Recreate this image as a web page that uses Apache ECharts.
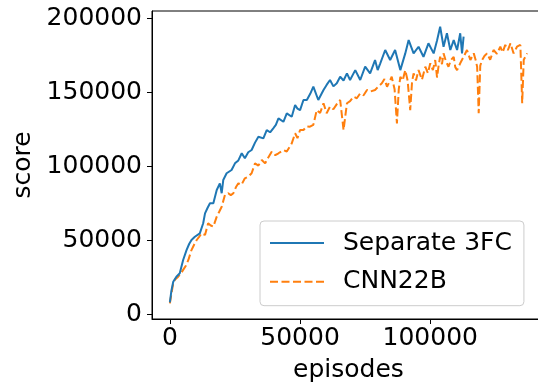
<!DOCTYPE html>
<html>
<head>
<meta charset="utf-8">
<script src="https://cdn.jsdelivr.net/npm/echarts@6/dist/echarts.min.js"></script>
<style>
  html, body { margin: 0; padding: 0; background: #fff; }
  #chart { width: 538px; height: 385px; }
</style>
</head>
<body>
<div id="chart"></div>
<script>
// Separate 3FC (blue, solid)
const blueEpisodes = [0, 600, 1300, 2500, 3800, 5100, 6400, 7400, 8300, 9600, 11500, 12800, 13500, 14500, 15400, 16700, 18000, 19200, 19900, 20500, 21800, 23700, 25000, 26300, 27600, 28800, 30100, 31400, 32700, 34000, 35900, 37200, 38500, 39700, 40700, 41700, 43600, 44900, 46800, 48100, 49000, 50000, 51300, 52600, 53900, 55100, 57000, 59000, 60200, 61500, 62800, 64100, 65400, 66700, 68000, 69200, 71200, 73100, 75000, 76900, 78800, 79800, 80800, 82700, 84600, 86500, 88500, 90400, 91700, 93600, 95500, 97400, 99300, 101300, 102600, 103800, 105100, 106400, 107700, 109000, 110300, 111500, 112200, 112800];
const blueScores = [8000, 16000, 22000, 25400, 27700, 36700, 43400, 47500, 50200, 52400, 54700, 61500, 68200, 72000, 75000, 75000, 84000, 88500, 81800, 90700, 95300, 97500, 102000, 104000, 108800, 105400, 109500, 111000, 116000, 120000, 118900, 124500, 123000, 125700, 128000, 132400, 130100, 135800, 133500, 141400, 139000, 138000, 144800, 144800, 149000, 153800, 144800, 151600, 155000, 158300, 154000, 156100, 160500, 158000, 162800, 158300, 165000, 158300, 167300, 162800, 171800, 165000, 169600, 178600, 171800, 178600, 165000, 176300, 185300, 176300, 180800, 174000, 183100, 176300, 185000, 194300, 180800, 189900, 178600, 185300, 178600, 189900, 176300, 187600];

// CNN22B (orange, dashed)
const orangeEpisodes = [0, 700, 1300, 2000, 3200, 4200, 5100, 6200, 7100, 8300, 9300, 10300, 11300, 12200, 13500, 14700, 15700, 16700, 18000, 19000, 19900, 21200, 22400, 23400, 24400, 25400, 26300, 27500, 28800, 30100, 31400, 32700, 34000, 35300, 36600, 37800, 39100, 40500, 41700, 43600, 44900, 46800, 48100, 49000, 50000, 51300, 52600, 53800, 55100, 56400, 57700, 59000, 60200, 61500, 62800, 64100, 65400, 66700, 68000, 69200, 70500, 71800, 73100, 74400, 75700, 76900, 78800, 80100, 81400, 82400, 83400, 84300, 85200, 86300, 87200, 87900, 88500, 89400, 90400, 91300, 92300, 93000, 93600, 94500, 95500, 96800, 98100, 99100, 100000, 101000, 101900, 102600, 103200, 103800, 104500, 105100, 106000, 107000, 108000, 109000, 109600, 110300, 111500, 112800, 114100, 115400, 116700, 117400, 118000, 118600, 119200, 119900, 120800, 121800, 123000, 124300, 125600, 126900, 127800, 128800, 129800, 130800, 132000, 133300, 134600, 135300, 135900, 136500, 137200];
const orangeScores = [7400, 15000, 21000, 23500, 25400, 27500, 30000, 33000, 36700, 43400, 47000, 50200, 52500, 54700, 53600, 61500, 60000, 59200, 66000, 69500, 72700, 81000, 81800, 80500, 81800, 86000, 88500, 87500, 91900, 93000, 95300, 102000, 100500, 104300, 102000, 106000, 109900, 107500, 108800, 111000, 110000, 115500, 122300, 119000, 124500, 124500, 127000, 126800, 128000, 138000, 136000, 142600, 135800, 140300, 138500, 142000, 144800, 124500, 142600, 144000, 147000, 146000, 149300, 148000, 151600, 150500, 151600, 154000, 156100, 159000, 153800, 157000, 160500, 152000, 129000, 152000, 160500, 158000, 165000, 158000, 138000, 157000, 162800, 158000, 165000, 158500, 167300, 163000, 169600, 165000, 171800, 160000, 168000, 174000, 169000, 176300, 171000, 167300, 172000, 174000, 167000, 165000, 169600, 174000, 178600, 171800, 176300, 172000, 167300, 135800, 168000, 171800, 174500, 176300, 172000, 178600, 176000, 180800, 177000, 182000, 178500, 183100, 176300, 180800, 182000, 142600, 172000, 174000, 176300];

const xTicks = [0, 50000, 100000];
const yTicks = [0, 50000, 100000, 150000, 200000];

const FONT = "DejaVu Sans";
const zip = (xs, ys) => xs.map((x, i) => [x, ys[i]]);

const chart = echarts.init(document.getElementById("chart"));

const axisCommon = {
  type: "value",
  nameLocation: "middle",
  nameTextStyle: { fontFamily: FONT, fontSize: 25, color: "#000" },
  axisLine: { show: true, onZero: false, lineStyle: { color: "#000", width: 1 } },
  axisTick: { show: true, length: 5, lineStyle: { color: "#000", width: 1 } },
  axisLabel: { fontFamily: FONT, fontSize: 25, color: "#000", formatter: (v) => String(v) },
  splitLine: { show: false },
};

chart.setOption({
  animation: false,
  backgroundColor: "#fff",
  // right edge sits past the canvas, like the cropped original
  grid: {
    left: 152, top: 11, width: 393, height: 308,
    containLabel: false, outerBoundsMode: "none",
    show: true, borderColor: "#000", borderWidth: 1, backgroundColor: "transparent",
  },
  xAxis: {
    ...axisCommon,
    min: -6860,
    max: 144060,
    name: "episodes",
    nameGap: 39,
    axisTick: { ...axisCommon.axisTick, customValues: xTicks },
    axisLabel: { ...axisCommon.axisLabel, margin: 7, customValues: xTicks },
  },
  yAxis: {
    ...axisCommon,
    min: -3180,
    max: 204940,
    name: "score",
    nameGap: 114,
    axisTick: { ...axisCommon.axisTick, customValues: yTicks },
    axisLabel: { ...axisCommon.axisLabel, margin: 10, customValues: yTicks },
  },
  legend: {
    orient: "vertical",
    left: 260,
    top: 221,
    itemWidth: 54,
    itemHeight: 25,
    itemGap: 13.7,
    padding: [9.5, 12, 11.5, 9],
    backgroundColor: "rgba(255,255,255,0.8)",
    borderColor: "#cccccc",
    borderWidth: 1,
    borderRadius: 4,
    itemStyle: { opacity: 0 },
    textStyle: { fontFamily: FONT, fontSize: 25, color: "#000", lineHeight: 25, padding: [0, 0, 0, 14] },
    data: ["Separate 3FC", "CNN22B"],
  },
  series: [
    {
      name: "Separate 3FC",
      type: "line",
      symbol: "none",
      data: zip(blueEpisodes, blueScores),
      lineStyle: { color: "#1f77b4", width: 2 },
      itemStyle: { color: "#1f77b4" },
      z: 3,
    },
    {
      name: "CNN22B",
      type: "line",
      symbol: "none",
      data: zip(orangeEpisodes, orangeScores),
      lineStyle: { color: "#ff7f0e", width: 2, type: [8, 3.5] },
      itemStyle: { color: "#ff7f0e" },
      z: 2,
    },
  ],
});
</script>
</body>
</html>
